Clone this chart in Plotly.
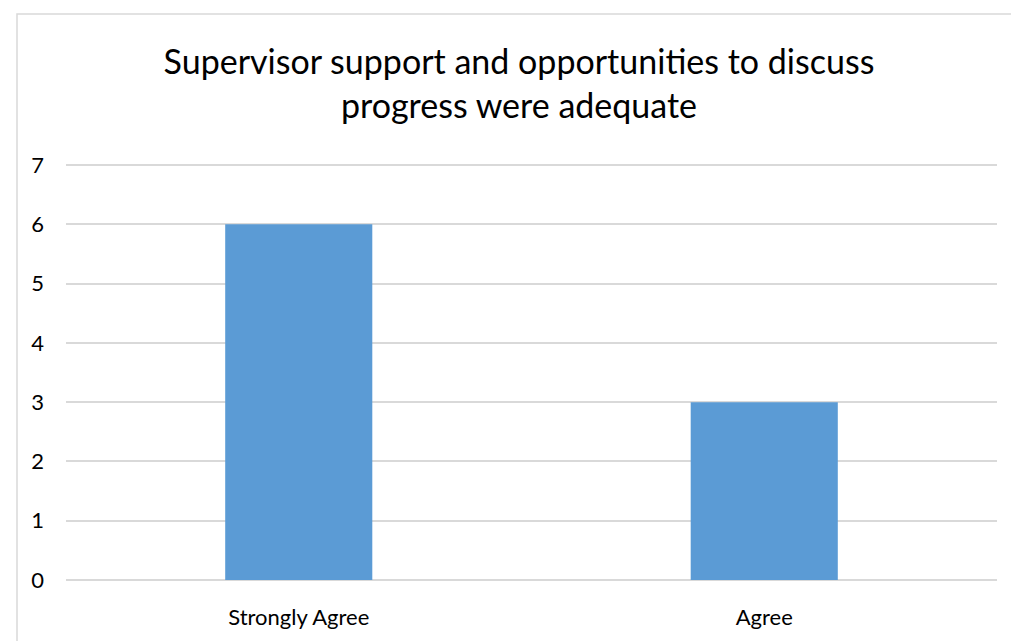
import plotly.graph_objects as go

categories = ["Strongly Agree", "Agree"]
values = [6, 3]
y_ticks = [0, 1, 2, 3, 4, 5, 6, 7]
title_text = "Supervisor support and opportunities to discuss<br>progress were adequate"

# page body has an 8px margin, so the figure is sized/offset accordingly
OFF = 8
YMAX = 7.05
W, H = 1019 - OFF, 641 - OFF
L, R, T, B = 66 - OFF, 22, 162 - OFF, 61
pw, ph = W - L - R, H - T - B

fig = go.Figure(go.Bar(
    x=categories, y=values,
    marker=dict(color="#5B9BD5", line=dict(width=0)),
    width=0.316,
))

fig.update_layout(
    width=W, height=H,
    margin=dict(l=L, r=R, t=T, b=B),
    paper_bgcolor="white", plot_bgcolor="white",
    font=dict(family="Lato, Open Sans, sans-serif", color="#000000"),
    title=dict(text=title_text, x=(519 - OFF) / W, xanchor="center", xref="container",
               y=1 - 66 / H, yanchor="middle", yref="container",
               font=dict(size=34, color="#000000")),
    showlegend=False,
)
fig.update_xaxes(showgrid=False, showline=False, ticks="", tickfont=dict(size=22),
                 ticklabelstandoff=22)
fig.update_yaxes(range=[0, YMAX], tickvals=y_ticks, showgrid=True, gridcolor="#D9D9D9",
                 gridwidth=1.5, zeroline=True, zerolinecolor="#D9D9D9", zerolinewidth=1.5,
                 showline=False, ticks="", tickfont=dict(size=22), ticklabelstandoff=21)

# chart border (extends past the image on right/bottom)
fig.add_shape(type="rect", xref="paper", yref="paper",
              x0=(17 - 66) / pw, x1=(W + 20 - L) / pw,
              y0=-(B + 20) / ph, y1=(580 - 14) / ph,
              line=dict(color="#D9D9D9", width=1.5), fillcolor="rgba(0,0,0,0)", layer="below")

fig.write_html("out.html")
